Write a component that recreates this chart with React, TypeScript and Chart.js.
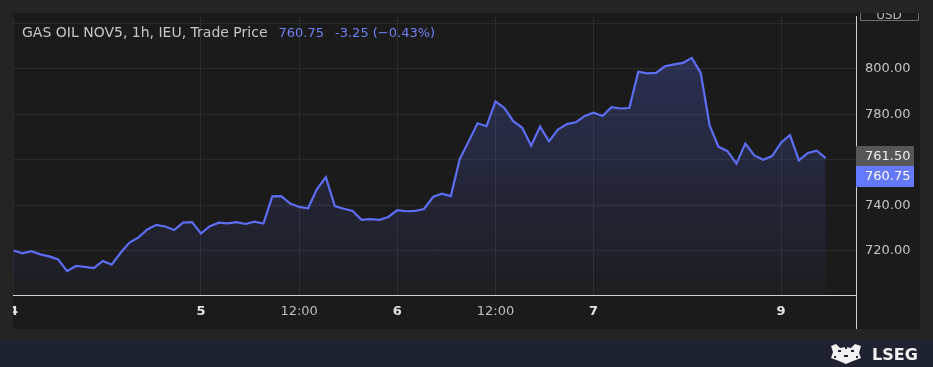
import React, { useEffect, useRef } from 'react';
import { Chart, registerables } from 'chart.js';

Chart.register(...registerables);

// ---- data ----
const prices: number[] = [
  720.0, 718.8, 719.7, 718.3, 717.4, 716.1, 710.9, 713.2, 712.8, 712.3,
  715.4, 713.8, 719.0, 723.5, 725.8, 729.3, 731.3, 730.6, 729.0, 732.3,
  732.5, 727.5, 730.7, 732.3, 732.0, 732.5, 731.7, 732.7, 731.9, 743.9,
  744.0, 740.7, 739.2, 738.6, 747.1, 752.3, 739.6, 738.4, 737.4, 733.5,
  733.8, 733.5, 734.8, 737.8, 737.3, 737.5, 738.3, 743.6, 745.1, 744.0,
  760.3, 768.1, 776.1, 774.8, 785.7, 782.8, 777.0, 774.1, 766.2, 774.6,
  768.1, 773.3, 775.7, 776.5, 779.3, 780.7, 779.3, 783.2, 782.6, 782.8,
  798.8, 798.1, 798.3, 801.2, 802.0, 802.7, 804.9, 798.3, 775.1, 765.7,
  763.8, 758.3, 767.1, 761.9, 760.0, 761.6, 767.5, 770.9, 759.7, 763.0,
  764.0, 760.75,
];
const xTickPositions: number[] = [0, 21, 32, 43, 54, 65, 86];
const xTickLabels: string[] = ['4', '5', '12:00', '6', '12:00', '7', '9'];
const hiddenYTicks: number[] = [760, 820];
const titleText = 'GAS OIL NOV5, 1h, IEU, Trade Price';
const lastPrice = 760.75;
const changeText = '-3.25 (\u22120.43%)';
const refPrice = 761.5;
const unitLabel = 'USD';
const brandText = 'LSEG';

const W = 933;
const H = 367;
const FONT = '"DejaVu Sans", sans-serif';
const LINE = '#5c6ff4';

const decorPlugin = {
  id: 'decor',
  beforeDraw(chart: any) {
    const ctx = chart.ctx;
    ctx.save();
    ctx.fillStyle = '#242424';
    ctx.fillRect(0, 0, W, H);
    ctx.fillStyle = '#1b1b1b';
    ctx.fillRect(13, 13, 907, 316);
    ctx.fillStyle = '#1e2231';
    ctx.fillRect(0, 341, W, H - 341);
    ctx.restore();
  },
  afterDraw(chart: any) {
    const ctx = chart.ctx;
    const area = chart.chartArea;
    const ys = chart.scales.y;
    ctx.save();
    // clip left margin (hides left half of first x label)
    ctx.fillStyle = '#242424';
    ctx.fillRect(0, 13, 13, 316);

    // axis vertical line extension
    ctx.strokeStyle = '#cfcfcf';
    ctx.lineWidth = 1;
    ctx.beginPath();
    ctx.moveTo(Math.round(area.right) + 0.5, area.bottom);
    ctx.lineTo(Math.round(area.right) + 0.5, 329);
    ctx.stroke();

    // title
    ctx.textBaseline = 'alphabetic';
    ctx.textAlign = 'left';
    ctx.font = '14px ' + FONT;
    ctx.fillStyle = '#c6c6c6';
    ctx.fillText(titleText, 22, 37);
    let x = 22 + ctx.measureText(titleText).width + 11;
    ctx.font = '13px ' + FONT;
    ctx.fillStyle = '#6f80f2';
    const lp = lastPrice.toFixed(2);
    ctx.fillText(lp, x, 37);
    x += ctx.measureText(lp).width + 11;
    ctx.fillText(changeText, x, 37);

    // USD header
    ctx.save();
    ctx.beginPath();
    ctx.rect(area.right + 1, 13, 64, 20);
    ctx.clip();
    ctx.font = '12px ' + FONT;
    ctx.fillStyle = '#b5b5b5';
    ctx.textAlign = 'center';
    ctx.fillText(unitLabel, area.right + 33, 18.5);
    ctx.restore();
    ctx.strokeStyle = '#6e6e6e';
    ctx.beginPath();
    ctx.moveTo(area.right + 4.5, 13);
    ctx.lineTo(area.right + 4.5, 20.5);
    ctx.lineTo(area.right + 62.5, 20.5);
    ctx.lineTo(area.right + 62.5, 13);
    ctx.stroke();

    // price badges
    const cy = ys.getPixelForValue(refPrice);
    const bx = area.right;
    ctx.fillStyle = '#575757';
    ctx.fillRect(bx, Math.round(cy - 10), 58, 20);
    ctx.fillStyle = '#6478fb';
    ctx.fillRect(bx, Math.round(cy + 10), 58, 21);
    ctx.font = '13px ' + FONT;
    ctx.textAlign = 'left';
    ctx.textBaseline = 'middle';
    ctx.fillStyle = '#ededed';
    ctx.fillText(refPrice.toFixed(2), bx + 9, Math.round(cy) + 0.5);
    ctx.fillStyle = '#ffffff';
    ctx.fillText(lastPrice.toFixed(2), bx + 9, Math.round(cy) + 21);

    // LSEG brand
    ctx.fillStyle = '#f2f2f2';
    ctx.font = 'bold 16px ' + FONT;
    ctx.textBaseline = 'alphabetic';
    ctx.fillText(brandText, 872, 360);
    // crest (approximate)
    ctx.beginPath();
    ctx.moveTo(831, 346);
    ctx.lineTo(836, 344);
    ctx.lineTo(840, 348);
    ctx.lineTo(846, 347);
    ctx.lineTo(851, 348);
    ctx.lineTo(855, 344);
    ctx.lineTo(861, 346);
    ctx.lineTo(859, 353);
    ctx.lineTo(861, 358);
    ctx.lineTo(853, 361);
    ctx.lineTo(846, 364);
    ctx.lineTo(839, 361);
    ctx.lineTo(831, 358);
    ctx.lineTo(833, 352);
    ctx.closePath();
    ctx.fill();
    ctx.fillStyle = '#1e2231';
    ctx.fillRect(838, 350, 3, 2);
    ctx.fillRect(851, 350, 3, 2);
    ctx.fillRect(844, 355, 4, 2);
    ctx.fillRect(834, 356, 2, 2);
    ctx.fillRect(856, 356, 2, 2);
    ctx.fillRect(845, 347, 2, 2);
    ctx.restore();
  },
};

export default function App() {
  const ref = useRef<HTMLCanvasElement | null>(null);

  useEffect(() => {
    if (!ref.current) return;
    const chart = new Chart(ref.current, {
      type: 'line',
      data: {
        datasets: [
          {
            data: prices.map((v, i) => ({ x: i, y: v })),
            borderColor: LINE,
            borderWidth: 2.2,
            pointRadius: 0,
            tension: 0,
            fill: 'start',
            backgroundColor: (c: any) => {
              const a = c.chart.chartArea;
              if (!a) return 'transparent';
              const g = c.chart.ctx.createLinearGradient(0, a.top, 0, a.bottom);
              g.addColorStop(0, 'rgba(92,110,245,0.29)');
              g.addColorStop(1, 'rgba(92,110,245,0.03)');
              return g;
            },
          },
        ],
      },
      options: {
        animation: false,
        responsive: false,
        maintainAspectRatio: false,
        devicePixelRatio: 1,
        layout: { padding: { left: 13, top: 13, right: 13, bottom: 38 } },
        plugins: { legend: { display: false }, tooltip: { enabled: false }, title: { display: false } },
        scales: {
          x: {
            type: 'linear',
            min: 0,
            max: 94.4,
            afterBuildTicks: (s: any) => {
              s.ticks = xTickPositions.map((v) => ({ value: v }));
            },
            afterFit: (s: any) => {
              s.height = 34;
            },
            grid: { color: '#2b2b2b', drawTicks: false, lineWidth: 1 },
            border: { display: true, color: '#d2d2d2', width: 1 },
            ticks: {
              autoSkip: false,
              maxRotation: 0,
              padding: 9,
              includeBounds: false,
              callback: (_v: any, i: number) => xTickLabels[i],
              font: (c: any) => ({
                family: FONT,
                size: 13,
                weight: c.tick && c.tick.label === '12:00' ? 'normal' : 'bold',
              }),
              color: (c: any) => (c.tick && c.tick.label === '12:00' ? '#bdbdbd' : '#e2e2e2'),
            },
          },
          y: {
            type: 'linear',
            position: 'right',
            min: 700.4,
            max: 823.0,
            afterFit: (s: any) => {
              s.width = 64;
            },
            grid: { color: '#2b2b2b', drawTicks: false, lineWidth: 1 },
            border: { display: true, color: '#cfcfcf', width: 1 },
            ticks: {
              stepSize: 20,
              includeBounds: false,
              padding: 9,
              font: { family: FONT, size: 13 },
              color: '#c4c4c4',
              callback: (v: any) => (hiddenYTicks.includes(Number(v)) ? '' : Number(v).toFixed(2)),
            },
          },
        },
      },
      plugins: [decorPlugin],
    } as any);
    return () => chart.destroy();
  }, []);

  return (
    <div style={{ position: 'fixed', left: 0, top: 0, width: W, height: H }}>
      <canvas ref={ref} width={W} height={H} style={{ display: 'block', width: W, height: H }} />
    </div>
  );
}
